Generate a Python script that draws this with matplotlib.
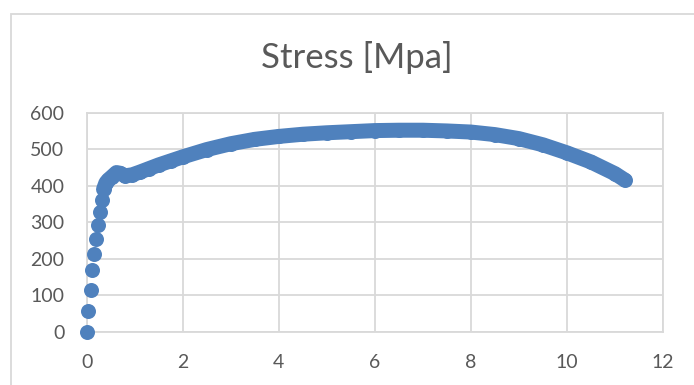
import matplotlib
matplotlib.use("Agg")
import matplotlib.pyplot as plt
from matplotlib.patches import Rectangle

# Engineering strain [%] and stress [MPa] from the tensile test
strain = [0, 0.035, 0.08, 0.11, 0.16, 0.19, 0.23, 0.28, 0.31, 0.35, 0.40, 0.45,
          0.52, 0.62, 0.70, 0.80, 0.95, 1.1, 1.3, 1.5, 1.75, 2.0, 2.5, 3.0, 3.5,
          4.0, 4.5, 5.0, 5.5, 6.0, 6.5, 7.0, 7.5, 8.0, 8.5, 9.0, 9.5, 10.0,
          10.5, 11.0, 11.2]
stress = [0, 57, 113, 168, 212, 253, 292, 329, 361, 390, 408, 416,
          424, 436, 434, 427, 430, 437, 447, 457, 468, 479, 499, 515, 527,
          535, 541, 545, 548, 551, 552, 552, 550, 547, 540, 529, 512, 490,
          465, 433, 416]
x_ticks = [0, 2, 4, 6, 8, 10, 12]
y_ticks = [0, 100, 200, 300, 400, 500, 600]
title = "Stress [Mpa]"

# index where the recorded points become dense enough to merge into a band
dense_start = 9

W, H, DPI = 694, 385, 100
blue = "#4f81bd"
grid_c = "#d9d9d9"
text_c = "#595959"
font = ["Lato", "DejaVu Sans"]

fig = plt.figure(figsize=(W / DPI, H / DPI), dpi=DPI)
fig.patch.set_facecolor("white")

# chart-area frame
fig.add_artist(Rectangle((11 / W, -0.1), 1.2, 1 - 14 / H + 0.1,
                         transform=fig.transFigure, fill=False,
                         edgecolor=grid_c, linewidth=1.3))

ax = fig.add_axes([86.7 / W, 1 - 331.7 / H, (663 - 86.7) / W, (331.7 - 112.7) / H])
ax.set_xlim(0, 12)
ax.set_ylim(0, 600)
ax.set_xticks(x_ticks)
ax.set_yticks(y_ticks)
ax.grid(True, color=grid_c, linewidth=1.3)
ax.set_axisbelow(True)
for s in ax.spines.values():
    s.set_color(grid_c)
    s.set_linewidth(1.3)
ax.tick_params(length=0, colors=text_c, labelsize=14, pad=16)
for lab in ax.get_xticklabels() + ax.get_yticklabels():
    lab.set_family(font)

ms = 10.8
ax.plot(strain[dense_start:], stress[dense_start:], color=blue, linewidth=ms,
        solid_capstyle="round", solid_joinstyle="round", zorder=3)
ax.plot(strain, stress, linestyle="none", marker="o", markersize=ms,
        color=blue, markeredgewidth=0, zorder=4, clip_on=False)

fig.text(356.5 / W, 1 - 57 / H, title, ha="center", va="center",
         fontsize=25, color=text_c, family=font)

fig.savefig("out.png", dpi=DPI)
